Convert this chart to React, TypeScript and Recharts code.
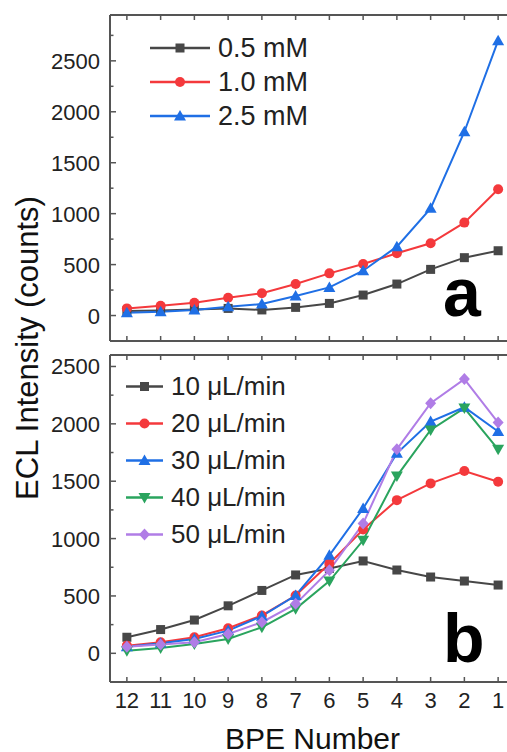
import React from 'react';
import { LineChart, Line, XAxis, YAxis, Legend, Label } from 'recharts';

const bpe = [12, 11, 10, 9, 8, 7, 6, 5, 4, 3, 2, 1];

// panel a: luminol concentration
const conc05 = [45, 50, 60, 70, 55, 80, 119, 201, 309, 453, 568, 636];
const conc10 = [70, 96, 126, 175, 218, 309, 414, 506, 611, 709, 912, 1239];
const conc25 = [28, 38, 54, 87, 113, 191, 276, 440, 676, 1052, 1804, 2698];

// panel b: flow rate
const flow10 = [140, 207, 290, 414, 548, 683, 740, 805, 726, 665, 630, 595];
const flow20 = [67, 96, 140, 219, 330, 504, 781, 1079, 1335, 1481, 1589, 1495];
const flow30 = [58, 87, 125, 198, 324, 504, 854, 1262, 1743, 2020, 2145, 1933];
const flow40 = [23, 47, 82, 125, 227, 388, 630, 985, 1545, 1947, 2137, 1778];
const flow50 = [58, 76, 96, 169, 271, 431, 723, 1131, 1778, 2180, 2390, 2011];

const yTicksA = [0, 250, 500, 750, 1000, 1250, 1500, 1750, 2000, 2250, 2500, 2750];
const yTicksB = [0, 250, 500, 750, 1000, 1250, 1500, 1750, 2000, 2250, 2500];

const dataA = bpe.map((n, i) => ({ bpe: n, c05: conc05[i], c10: conc10[i], c25: conc25[i] }));
const dataB = bpe.map((n, i) => ({
  bpe: n, f10: flow10[i], f20: flow20[i], f30: flow30[i], f40: flow40[i], f50: flow50[i],
}));

const GREY = '#474747';
const RED = '#f4393c';
const BLUE = '#1f6fe5';
const GREEN = '#2aa45e';
const PURPLE = '#b07de6';
const AXIS = '#555';
const FONT = '"Liberation Sans", Arial, sans-serif';

const seriesA = [
  { key: 'c05', name: '0.5 mM', color: GREY, shape: 'square' },
  { key: 'c10', name: '1.0 mM', color: RED, shape: 'circle' },
  { key: 'c25', name: '2.5 mM', color: BLUE, shape: 'triangle' },
];
const seriesB = [
  { key: 'f10', name: '10 μL/min', color: GREY, shape: 'square' },
  { key: 'f20', name: '20 μL/min', color: RED, shape: 'circle' },
  { key: 'f30', name: '30 μL/min', color: BLUE, shape: 'triangle' },
  { key: 'f40', name: '40 μL/min', color: GREEN, shape: 'down' },
  { key: 'f50', name: '50 μL/min', color: PURPLE, shape: 'diamond' },
];

const Marker = ({ cx, cy, shape, color }: any) => {
  if (cx == null || cy == null) return null;
  switch (shape) {
    case 'square':
      return <rect x={cx - 4.5} y={cy - 4.5} width={9} height={9} fill={color} />;
    case 'circle':
      return <circle cx={cx} cy={cy} r={5} fill={color} />;
    case 'triangle':
      return <polygon points={`${cx},${cy - 6} ${cx + 6},${cy + 4.5} ${cx - 6},${cy + 4.5}`} fill={color} />;
    case 'down':
      return <polygon points={`${cx},${cy + 6} ${cx + 6},${cy - 4.5} ${cx - 6},${cy - 4.5}`} fill={color} />;
    case 'diamond':
      return <polygon points={`${cx},${cy - 6} ${cx + 5.5},${cy} ${cx},${cy + 6} ${cx - 5.5},${cy}`} fill={color} />;
    default:
      return null;
  }
};

// left axis: inward ticks, labels only on every 500
const YTick = (props: any) => {
  const { x, y, payload } = props;
  const major = payload.value % 500 === 0;
  const ax = x + 10;
  return (
    <g>
      <line x1={ax} x2={ax + (major ? 6 : 3.5)} y1={y} y2={y} stroke={AXIS} strokeWidth={1.5} />
      {major && (
        <text x={x} y={y} dy={8} textAnchor="end" fontSize={22} fontFamily={FONT} fill="#222">
          {payload.value}
        </text>
      )}
    </g>
  );
};

const BottomTick = (props: any) => {
  const { x, y, payload, showLabel } = props;
  const ay = y - 8;
  return (
    <g>
      <line x1={x} x2={x} y1={ay} y2={ay - 5} stroke={AXIS} strokeWidth={1.5} />
      {showLabel && (
        <text x={x} y={y} dy={18} textAnchor="middle" fontSize={22} fontFamily={FONT} fill="#222">
          {payload.value}
        </text>
      )}
    </g>
  );
};

const TopTick = (props: any) => {
  const { x, y } = props;
  return <line x1={x} x2={x} y1={y} y2={y + 5} stroke={AXIS} strokeWidth={1.5} />;
};

const LegendBox = ({ items, lineW, rowH, fontSize }: any) => (
  <div style={{ fontFamily: FONT }}>
    {items.map((s: any) => (
      <div key={s.key} style={{ display: 'flex', alignItems: 'center', height: rowH }}>
        <svg width={lineW} height={rowH} style={{ marginRight: 8 }}>
          <line x1={0} x2={lineW} y1={rowH / 2} y2={rowH / 2} stroke={s.color} strokeWidth={2.5} />
          <Marker cx={lineW / 2} cy={rowH / 2} shape={s.shape} color={s.color} />
        </svg>
        <span style={{ fontSize, lineHeight: `${rowH}px`, color: '#222', whiteSpace: 'nowrap' }}>{s.name}</span>
      </div>
    ))}
  </div>
);

const axisLine = { stroke: AXIS, strokeWidth: 2 };

const XAxes = ({ showLabels, bottomHeight }: any) => [
  <XAxis
    key="top"
    xAxisId="top"
    orientation="top"
    dataKey="bpe"
    type="number"
    domain={[0.5, 12.5]}
    allowDataOverflow
    reversed
    ticks={bpe}
    interval={0}
    height={10}
    tickSize={0}
    tickMargin={0}
    axisLine={axisLine}
    tick={(p: any) => <TopTick {...p} />}
  />,
  <XAxis
    key="bottom"
    xAxisId={0}
    dataKey="bpe"
    type="number"
    domain={[0.5, 12.5]}
    allowDataOverflow
    reversed
    ticks={bpe}
    interval={0}
    height={bottomHeight}
    tickSize={0}
    tickMargin={8}
    axisLine={axisLine}
    tick={(p: any) => <BottomTick {...p} showLabel={showLabels} />}
  >
    {showLabels && (
      <Label value="BPE Number" position="insideBottom" offset={0} fontSize={30} fontFamily={FONT} fill="#111" />
    )}
  </XAxis>,
];

const renderLines = (series: any[]) =>
  series.map((s) => (
    <Line
      key={s.key}
      dataKey={s.key}
      name={s.name}
      stroke={s.color}
      strokeWidth={2}
      isAnimationActive={false}
      activeDot={false}
      dot={(p: any) => <Marker key={`${s.key}-${p.index}`} cx={p.cx} cy={p.cy} shape={s.shape} color={s.color} />}
    />
  ));

const abs: React.CSSProperties = { position: 'absolute', left: 0, top: 0 };

export default function App() {
  return (
    <>
      <style>{'html, body { margin: 0; padding: 0; overflow: hidden; }'}</style>
      <div style={{ position: 'relative', width: 507, height: 752, overflow: 'hidden', background: '#fff' }}>
        <div style={abs}>
          <LineChart width={540} height={752} data={dataA} margin={{ top: 5, right: 25, bottom: 401, left: 10 }}>
            {XAxes({ showLabels: false, bottomHeight: 10 })}
            <YAxis
              type="number"
              domain={[-250, 2950]}
              allowDataOverflow
              ticks={yTicksA}
              interval={0}
              width={100}
              tickSize={0}
              tickMargin={10}
              axisLine={axisLine}
              tick={(p: any) => <YTick {...p} />}
            />
            <Legend
              layout="vertical"
              align="center"
              verticalAlign="middle"
              wrapperStyle={{ left: 150, top: 31, width: 'auto' }}
              content={() => <LegendBox items={seriesA} lineW={60} rowH={34} fontSize={27} />}
            />
            {renderLines(seriesA)}
          </LineChart>
        </div>
        <div style={abs}>
          <LineChart width={540} height={752} data={dataB} margin={{ top: 345, right: 25, bottom: 3, left: 10 }}>
            {XAxes({ showLabels: true, bottomHeight: 67 })}
            <YAxis
              type="number"
              domain={[-250, 2600]}
              allowDataOverflow
              ticks={yTicksB}
              interval={0}
              width={100}
              tickSize={0}
              tickMargin={10}
              axisLine={axisLine}
              tick={(p: any) => <YTick {...p} />}
            />
            <Legend
              layout="vertical"
              align="center"
              verticalAlign="middle"
              wrapperStyle={{ left: 126, top: 368, width: 'auto' }}
              content={() => <LegendBox items={seriesB} lineW={37} rowH={37} fontSize={26} />}
            />
            {renderLines(seriesB)}
          </LineChart>
        </div>
        <div
          style={{
            position: 'absolute',
            left: 27,
            top: 348,
            transform: 'translate(-50%, -50%) rotate(-90deg)',
            fontFamily: FONT,
            fontSize: 31,
            lineHeight: '31px',
            whiteSpace: 'nowrap',
            color: '#111',
          }}
        >
          ECL Intensity (counts)
        </div>
        <div style={{ position: 'absolute', left: 443, top: 258, fontFamily: FONT, fontSize: 68, fontWeight: 'bold', lineHeight: '68px' }}>
          a
        </div>
        <div style={{ position: 'absolute', left: 443, top: 604, fontFamily: FONT, fontSize: 68, fontWeight: 'bold', lineHeight: '68px' }}>
          b
        </div>
      </div>
    </>
  );
}
